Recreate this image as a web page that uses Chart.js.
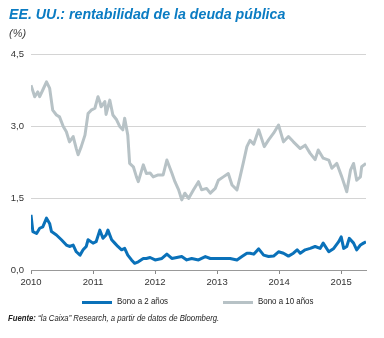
<!DOCTYPE html>
<html>
<head>
<meta charset="utf-8">
<script src="https://cdn.jsdelivr.net/npm/chart.js@4.4.1/dist/chart.umd.min.js"></script>
<style>
  html, body { margin: 0; padding: 0; background: #fff; }
  body { width: 384px; height: 338px; position: relative; overflow: hidden; font-family: "Liberation Sans", Arial, sans-serif; }
  #wrap { position: absolute; left: 0; top: 0; width: 384px; height: 338px; }
  .title { position: absolute; left: 9px; top: 6px; font-size: 14.5px; font-weight: bold; font-style: italic; color: #0b7cc3; white-space: nowrap; transform: scaleX(0.98); transform-origin: left top; }
  .unit { position: absolute; left: 9px; top: 27px; font-size: 11px; font-style: italic; color: #444; }
  .legend { position: absolute; top: 296px; height: 12px; font-size: 9px; color: #222; white-space: nowrap; }
  .legend .sw { position: absolute; top: 5px; left: 0; width: 30px; height: 3px; }
  .legend .tx { position: absolute; left: 35px; top: 0; transform: scaleX(0.88); transform-origin: left top; }
  .source { position: absolute; left: 8px; top: 313px; font-size: 9px; font-style: italic; color: #222; white-space: nowrap; transform: scaleX(0.86); transform-origin: left top; }
</style>
</head>
<body>
<div id="wrap"><canvas id="c" width="384" height="338"></canvas></div>
<div class="title">EE. UU.: rentabilidad de la deuda pública</div>
<div class="unit">(%)</div>
<div class="legend" style="left:82px"><span class="sw" style="background:#0a71b9"></span><span class="tx" id="lg0"></span></div>
<div class="legend" style="left:223px"><span class="sw" style="background:#b7c2c6"></span><span class="tx" id="lg1"></span></div>
<div class="source"><b>Fuente:</b> “la Caixa” Research, a partir de datos de Bloomberg.</div>
<script>
// Bono a 10 años: dates (decimal years) and yields (%)
const dates10 = [
  2010.00,2010.06,2010.11,2010.14,2010.19,2010.25,2010.30,2010.35,2010.41,2010.46,
  2010.52,2010.57,2010.62,2010.68,2010.73,2010.76,2010.81,2010.87,2010.92,2010.97,
  2011.03,2011.08,2011.11,2011.13,2011.19,2011.21,2011.27,2011.32,2011.38,2011.43,
  2011.48,2011.51,2011.56,2011.59,2011.65,2011.70,2011.73,2011.81,2011.86,2011.92,
  2011.97,2012.05,2012.13,2012.19,2012.27,2012.32,2012.38,2012.43,2012.48,2012.54,
  2012.62,2012.70,2012.75,2012.83,2012.89,2012.97,2013.02,2013.10,2013.18,2013.24,
  2013.32,2013.37,2013.42,2013.48,2013.53,2013.59,2013.67,2013.76,2013.83,2013.91,
  2013.99,2014.07,2014.15,2014.23,2014.34,2014.42,2014.50,2014.58,2014.63,2014.71,
  2014.80,2014.85,2014.93,2015.01,2015.09,2015.15,2015.20,2015.25,2015.31,2015.33,
  2015.40
];
const bono10 = [
  3.85,3.61,3.71,3.61,3.75,3.92,3.79,3.33,3.23,3.19,
  2.99,2.88,2.67,2.78,2.53,2.40,2.57,2.81,3.26,3.33,
  3.37,3.61,3.50,3.40,3.51,3.24,3.54,3.23,3.13,2.99,
  2.92,3.16,2.81,2.22,2.15,1.94,1.84,2.19,2.01,2.02,
  1.94,1.98,1.98,2.29,2.02,1.84,1.67,1.46,1.60,1.49,
  1.67,1.84,1.67,1.70,1.60,1.70,1.87,1.94,2.01,1.77,
  1.67,1.94,2.22,2.57,2.70,2.62,2.92,2.57,2.71,2.85,
  3.02,2.67,2.78,2.67,2.53,2.60,2.43,2.30,2.50,2.33,
  2.29,2.12,2.22,1.94,1.63,2.08,2.22,1.87,1.94,2.15,
  2.22
];
// Bono a 2 años: dates (decimal years) and yields (%)
const dates2 = [
  2010.00,2010.03,2010.09,2010.14,2010.19,2010.25,2010.30,2010.33,2010.41,2010.49,
  2010.57,2010.62,2010.68,2010.73,2010.79,2010.84,2010.89,2010.92,2011.00,2011.05,
  2011.11,2011.16,2011.21,2011.24,2011.30,2011.35,2011.40,2011.46,2011.51,2011.56,
  2011.62,2011.67,2011.73,2011.81,2011.86,2011.92,2012.00,2012.11,2012.19,2012.27,
  2012.35,2012.43,2012.51,2012.59,2012.70,2012.81,2012.89,2013.00,2013.10,2013.21,
  2013.32,2013.40,2013.48,2013.53,2013.59,2013.67,2013.75,2013.83,2013.91,2013.99,
  2014.07,2014.15,2014.23,2014.29,2014.34,2014.42,2014.50,2014.58,2014.66,2014.71,
  2014.80,2014.88,2014.96,2015.00,2015.04,2015.09,2015.13,2015.20,2015.25,2015.31,
  2015.36,2015.40
];
const bono2 = [
  1.15,0.80,0.76,0.87,0.90,1.08,0.97,0.80,0.73,0.63,
  0.52,0.49,0.52,0.38,0.31,0.42,0.49,0.63,0.56,0.59,
  0.83,0.66,0.73,0.83,0.63,0.56,0.49,0.42,0.45,0.31,
  0.21,0.14,0.17,0.24,0.24,0.26,0.21,0.24,0.33,0.24,
  0.26,0.28,0.21,0.24,0.21,0.28,0.24,0.24,0.24,0.24,
  0.21,0.28,0.35,0.35,0.33,0.44,0.31,0.28,0.29,0.38,
  0.35,0.29,0.35,0.42,0.35,0.42,0.45,0.49,0.45,0.56,
  0.38,0.45,0.59,0.69,0.45,0.49,0.66,0.56,0.42,0.52,
  0.56,0.59
];
const yearTicks = [2010, 2011, 2012, 2013, 2014, 2015];
const yTicks = [0, 1.5, 3.0, 4.5];
const seriesNames = ["Bono a 2 años", "Bono a 10 años"];
const seriesColors = ["#0a71b9", "#b7c2c6"];

document.getElementById('lg0').textContent = seriesNames[0];
document.getElementById('lg1').textContent = seriesNames[1];

const pts = (xs, ys) => ys.map((v, i) => ({ x: xs[i], y: v }));
const tickFont = { family: '"Liberation Sans", Arial, sans-serif', size: 9.5 };

new Chart(document.getElementById('c'), {
  type: 'line',
  data: {
    datasets: [
      { label: seriesNames[1], data: pts(dates10, bono10), borderColor: seriesColors[1], borderWidth: 3, pointRadius: 0, tension: 0, borderJoinStyle: 'round' },
      { label: seriesNames[0], data: pts(dates2, bono2), borderColor: seriesColors[0], borderWidth: 3, pointRadius: 0, tension: 0, borderJoinStyle: 'round' }
    ]
  },
  options: {
    responsive: false,
    animation: false,
    layout: { padding: { top: 54, right: 18, left: 0, bottom: 0 } },
    plugins: { legend: { display: false }, tooltip: { enabled: false } },
    scales: {
      x: {
        type: 'linear', min: 2010, max: 2015.4,
        afterBuildTicks: s => { s.ticks = yearTicks.map(v => ({ value: v })); },
        afterFit: s => { s.height = 68; },
        grid: { drawOnChartArea: false, drawTicks: true, tickLength: 4, color: '#888' },
        border: { display: true, color: '#999', width: 1 },
        ticks: { font: tickFont, color: '#333', padding: 3, maxRotation: 0, callback: v => String(v) }
      },
      y: {
        min: 0, max: 4.5,
        afterBuildTicks: s => { s.ticks = yTicks.map(v => ({ value: v })); },
        afterFit: s => { s.width = 31; },
        grid: { drawTicks: false, color: '#d4d4d4' },
        border: { display: false },
        ticks: { font: tickFont, color: '#333', padding: 7, callback: v => v.toFixed(1).replace('.', ',') }
      }
    }
  }
});
</script>
</body>
</html>
